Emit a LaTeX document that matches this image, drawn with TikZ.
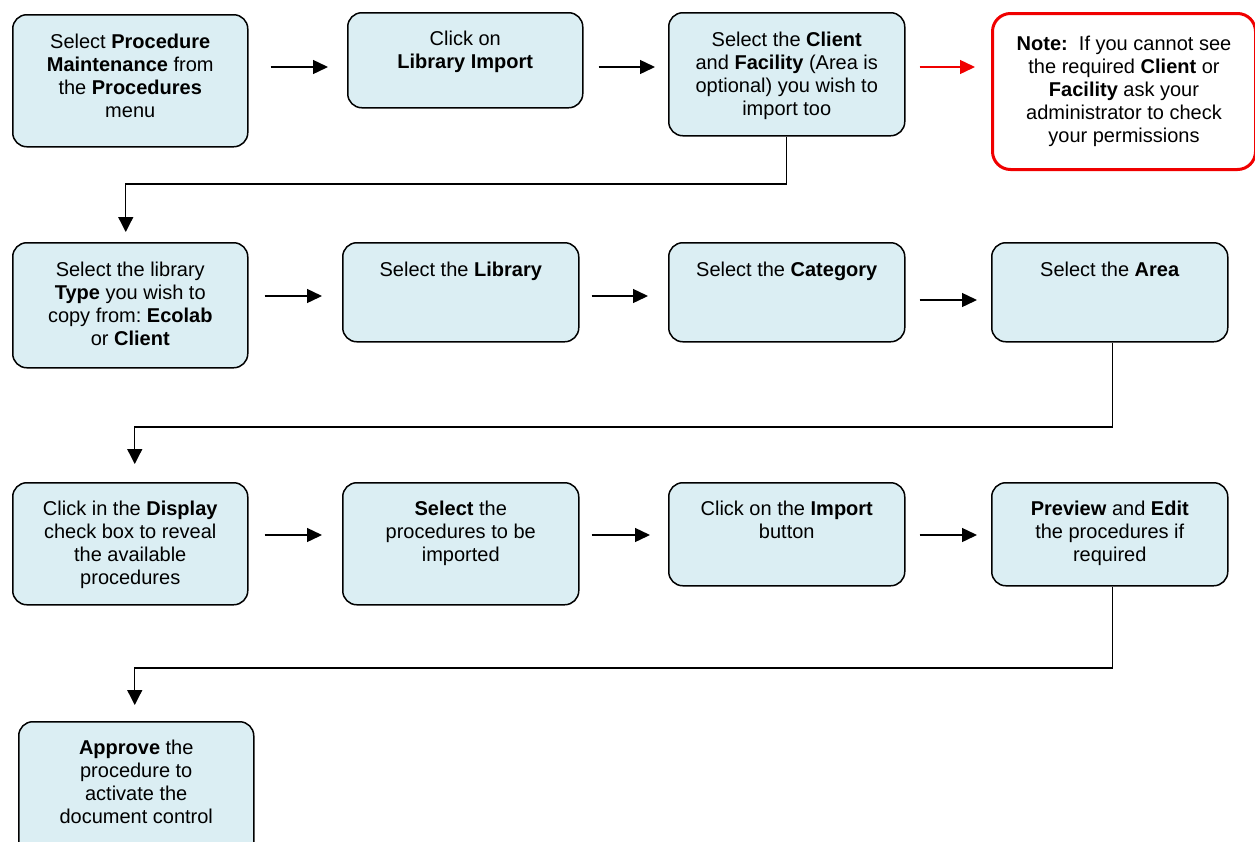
\documentclass[tikz,border=0pt]{standalone}
\usepackage{fontspec}
\setmainfont{Liberation Sans}
\usetikzlibrary{arrows.meta}
\definecolor{boxfill}{HTML}{DBEEF3}
\definecolor{notered}{HTML}{F00000}
\newcommand\boxtxt[4]{\begin{minipage}[t][#2pt][t]{#1pt}\centering\frenchspacing\fontsize{20}{23}\selectfont\rule{0pt}{#3pt}#4\end{minipage}}
\begin{document}
\begin{tikzpicture}[x=1pt,y=-1pt,
  box/.style={draw=black, line width=1.5pt, fill=boxfill, rounded corners=14pt, inner sep=0pt, anchor=north west},
  notebox/.style={box, draw=notered, line width=3pt, fill=white, rounded corners=18pt},
  arr/.style={line width=1.4pt, -{Triangle[length=15pt,width=14pt]}},
  conn/.style={line width=1.3pt, -{Triangle[length=15pt,width=15pt]}},
  redarr/.style={arr, draw=notered, color=notered}]
\useasboundingbox (0,0) rectangle (1255,841);
\clip (0,0) rectangle (1255,841);
% row 1
\node[box] (b1) at (12,14) {\boxtxt{235}{132}{34}{Select \textbf{Procedure}\\ \textbf{Maintenance} from\\ the \textbf{Procedures}\\ menu}};
\node[box] (b2) at (347,12) {\boxtxt{235}{95}{33}{Click on\\ \textbf{Library Import}}};
\node[box] (b3) at (668,12) {\boxtxt{236}{123}{34}{Select the \textbf{Client}\\ and \textbf{Facility} (Area is\\ optional) you wish to\\ import too}};
\node[notebox] (note) at (991,12) {\boxtxt{263}{156}{37}{\textbf{Note:}\ \ If you cannot see\\ the required \textbf{Client} or\\ \textbf{Facility} ask your\\ administrator to check\\ your permissions}};
% row 2
\node[box] (b4) at (12,242) {\boxtxt{235}{125}{34}{Select the library\\ \textbf{Type} you wish to\\ copy from: \textbf{Ecolab}\\ or \textbf{Client}}};
\node[box] (b5) at (342,242) {\boxtxt{236}{99}{34}{Select the \textbf{Library}}};
\node[box] (b6) at (668,242) {\boxtxt{236}{99}{34}{Select the \textbf{Category}}};
\node[box] (b7) at (991,242) {\boxtxt{236}{99}{34}{Select the \textbf{Area}}};
% row 3
\node[box] (b8) at (12,482) {\boxtxt{235}{122}{33}{Click in the \textbf{Display}\\ check box to reveal\\ the available\\ procedures}};
\node[box] (b9) at (342,482) {\boxtxt{236}{122}{33}{\textbf{Select} the\\ procedures to be\\ imported}};
\node[box] (b10) at (668,482) {\boxtxt{236}{103}{33}{Click on the \textbf{Import}\\ button}};
\node[box] (b11) at (991,482) {\boxtxt{236}{103}{33}{\textbf{Preview} and \textbf{Edit}\\ the procedures if\\ required}};
% row 4
\node[box] (b12) at (18,721) {\boxtxt{235}{135}{33}{\textbf{Approve} the\\ procedure to\\ activate the\\ document control}};
% levels
\coordinate (ya) at (0,67);
\coordinate (yb) at (0,296);
\coordinate (yc) at (0,300);
\coordinate (yd) at (0,535);
\coordinate (k1) at (0,184);
\coordinate (k2) at (0,427);
\coordinate (k3) at (0,668);
% horizontal arrows
\draw[arr, shorten <=22pt, shorten >=19pt] (b1.east |- ya) -- (b2.west |- ya);
\draw[arr, shorten <=15pt, shorten >=13pt] (b2.east |- ya) -- (b3.west |- ya);
\draw[redarr, shorten <=14pt, shorten >=16pt] (b3.east |- ya) -- (note.west |- ya);
\draw[arr, shorten <=16pt, shorten >=20pt] (b4.east |- yb) -- (b5.west |- yb);
\draw[arr, shorten <=12pt, shorten >=20pt] (b5.east |- yb) -- (b6.west |- yb);
\draw[arr, shorten <=14pt, shorten >=14pt] (b6.east |- yc) -- (b7.west |- yc);
\draw[arr, shorten <=16pt, shorten >=20pt] (b8.east |- yd) -- (b9.west |- yd);
\draw[arr, shorten <=12pt, shorten >=18pt] (b9.east |- yd) -- (b10.west |- yd);
\draw[arr, shorten <=14pt, shorten >=14pt] (b10.east |- yd) -- (b11.west |- yd);
% elbow connectors
\draw[conn, shorten >=10pt] (b3.south) -- (b3.south |- k1) -| ([xshift=-4.5pt]b4.north);
\draw[conn, shorten >=18pt] ([xshift=3pt]b7.south) -- ([xshift=3pt]b7.south |- k2) -| ([xshift=4.5pt]b8.north);
\draw[conn, shorten >=16pt] ([xshift=3pt]b11.south) -- ([xshift=3pt]b11.south |- k3) -| ([xshift=-1.5pt]b12.north);
\end{tikzpicture}
\end{document}
